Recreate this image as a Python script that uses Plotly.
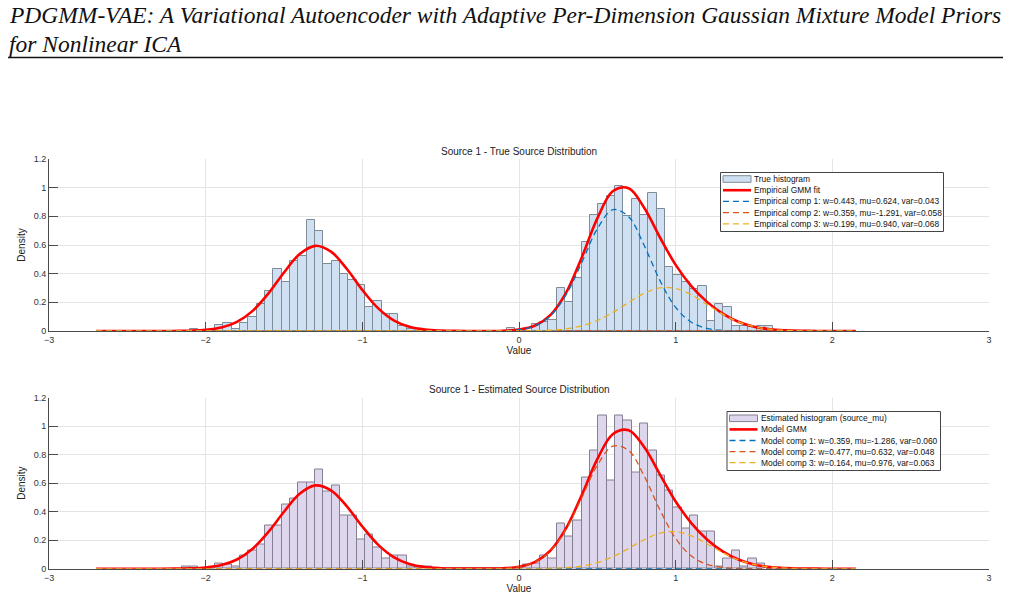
import numpy as np
import plotly.graph_objects as go

W, H = 1011, 602

# ---------------- data ----------------
BIN_WIDTH = 0.0532
TRUE_BIN_START = -2.1
EST_BIN_START = -2.1532

TRUE_HIST = [0.014, 0, 0, 0.04, 0.058, 0.016, 0.056, 0.095, 0.186, 0.28,
             0.43, 0.34, 0.49, 0.525, 0.772, 0.695, 0.47, 0.49, 0.395, 0.358,
             0.32, 0.17, 0.207, 0.116, 0.116, 0.035, 0.014, 0.014, 0.0,
             0, 0, 0, 0, 0, 0, 0, 0, 0,
             0.02, 0, 0,
             0.05, 0.065, 0.075, 0.298, 0.205, 0.372, 0.62, 0.81, 0.883, 0.944,
             1.014, 0.8, 0.92, 0.81, 0.96, 0.85, 0.449, 0.392, 0.34, 0.29,
             0.316, 0.072, 0.186, 0.168, 0.037, 0.032, 0.028, 0.037, 0.037]

EST_HIST = [0.016, 0.016, 0, 0, 0.035, 0.03, 0.016, 0.093, 0.13, 0.168,
            0.30, 0.30, 0.45, 0.49, 0.603, 0.603, 0.696, 0.544, 0.584, 0.376,
            0.376, 0.208, 0.243, 0.15, 0.072, 0.093, 0.093, 0.014, 0.014, 0.014,
            0, 0, 0, 0, 0, 0, 0, 0, 0,
            0, 0, 0.03, 0.037, 0.09, 0.072, 0.315, 0.225, 0.336, 0.638,
            0.828, 1.072, 0.62, 1.072, 1.036, 0.677, 1.017, 0.828, 0.656, 0.545,
            0.429, 0.283, 0.375, 0.262, 0.263, 0.014, 0.07, 0.129, 0.016, 0.071,
            0.036]

CURVE_X = [-2.7, -2.6, -2.5, -2.4, -2.3, -2.2, -2.1, -2.0, -1.9, -1.8,
           -1.7, -1.6, -1.5, -1.4, -1.3, -1.2, -1.1, -1.0, -0.9, -0.8,
           -0.7, -0.6, -0.5, -0.4, -0.3, -0.2, -0.1, 0.0, 0.1, 0.2,
           0.3, 0.4, 0.5, 0.6, 0.7, 0.8, 0.9, 1.0, 1.1, 1.2,
           1.3, 1.4, 1.5, 1.6, 1.7, 1.8, 1.9, 2.0, 2.1, 2.15]

TRUE_GMM = [0, 0, 0, 0, 0.0001, 0.0005, 0.0021, 0.0078, 0.0243, 0.0637,
            0.1406, 0.2610, 0.4080, 0.5368, 0.5942, 0.5536, 0.4341, 0.2866, 0.1592, 0.0744,
            0.0293, 0.0097, 0.0027, 0.0006, 0.0001, 0.0003, 0.0020, 0.0097, 0.0367, 0.1108,
            0.2664, 0.5113, 0.7861, 0.9767, 0.9962, 0.8581, 0.6523, 0.4612, 0.3133, 0.2032,
            0.1216, 0.0650, 0.0304, 0.0124, 0.0044, 0.0013, 0.0004, 0.0001, 0, 0]
TRUE_COMP1 = [0, 0, 0, 0, 0, 0, 0, 0, 0, 0,
              0, 0, 0, 0, 0, 0, 0, 0, 0, 0,
              0, 0, 0, 0, 0, 0.0003, 0.0019, 0.0092, 0.0350, 0.1054,
              0.2514, 0.4756, 0.7128, 0.8466, 0.7969, 0.5945, 0.3515, 0.1647, 0.0612, 0.0180,
              0.0042, 0.0008, 0.0001, 0, 0, 0, 0, 0, 0, 0]
TRUE_COMP2 = [0, 0]
TRUE_COMP2_X = [-2.7, 2.15]
TRUE_COMP3 = [0, 0, 0, 0, 0, 0, 0, 0, 0, 0,
              0, 0, 0, 0, 0, 0, 0, 0, 0, 0,
              0, 0, 0, 0, 0, 0, 0.0001, 0.0005, 0.0017, 0.0054,
              0.0150, 0.0357, 0.0733, 0.1301, 0.1993, 0.2636, 0.3008, 0.2965, 0.2522, 0.1852,
              0.1174, 0.0642, 0.0303, 0.0124, 0.0044, 0.0013, 0.0004, 0.0001, 0, 0]

MODEL_GMM = [0, 0, 0, 0, 0.0001, 0.0006, 0.0023, 0.0084, 0.0253, 0.0647,
             0.1402, 0.2571, 0.3992, 0.5247, 0.5838, 0.5497, 0.4383, 0.2957, 0.1689, 0.0817,
             0.0334, 0.0116, 0.0034, 0.0008, 0.0002, 0.0007, 0.0033, 0.0137, 0.0462, 0.1265,
             0.2824, 0.5145, 0.7676, 0.9443, 0.9702, 0.8513, 0.6600, 0.4714, 0.3194, 0.2052,
             0.1216, 0.0645, 0.0298, 0.0119, 0.0041, 0.0012, 0.0003, 0.0001, 0, 0]
MODEL_COMP1 = [0, 0]
MODEL_COMP1_X = [-2.7, 2.15]
MODEL_COMP2 = [0, 0, 0, 0, 0, 0, 0, 0, 0, 0,
               0, 0, 0, 0, 0, 0, 0, 0, 0, 0,
               0, 0, 0, 0, 0, 0.0006, 0.0033, 0.0136, 0.0456, 0.1243,
               0.2755, 0.4958, 0.7244, 0.8594, 0.8278, 0.6474, 0.4110, 0.2119, 0.0887, 0.0301,
               0.0083, 0.0019, 0.0003, 0, 0, 0, 0, 0, 0, 0]
MODEL_COMP3 = [0, 0, 0, 0, 0, 0, 0, 0, 0, 0,
               0, 0, 0, 0, 0, 0, 0, 0, 0, 0,
               0, 0, 0, 0, 0, 0, 0, 0.0001, 0.0006, 0.0022,
               0.0069, 0.0187, 0.0432, 0.0849, 0.1424, 0.2039, 0.2490, 0.2595, 0.2307, 0.1751,
               0.1133, 0.0626, 0.0295, 0.0119, 0.0041, 0.0012, 0.0003, 0.0001, 0, 0]

TRUE_LABELS = ["True histogram", "Empirical GMM fit",
               "Empirical comp 1: w=0.443, mu=0.624, var=0.043",
               "Empirical comp 2: w=0.359, mu=-1.291, var=0.058",
               "Empirical comp 3: w=0.199, mu=0.940, var=0.068"]
MODEL_LABELS = ["Estimated histogram (source_mu)", "Model GMM",
                "Model comp 1: w=0.359, mu=-1.286, var=0.060",
                "Model comp 2: w=0.477, mu=0.632, var=0.048",
                "Model comp 3: w=0.164, mu=0.976, var=0.063"]

TITLE_1 = "Source 1 - True Source Distribution"
TITLE_2 = "Source 1 - Estimated Source Distribution"
HEADER = ["PDGMM-VAE: A Variational Autoencoder with Adaptive Per-Dimension Gaussian Mixture Model Priors",
          "for Nonlinear ICA"]

# ---------------- styles ----------------
BLUE_FILL, BLUE_EDGE = "#cfe0f2", "#7f8b97"
PURP_FILL, PURP_EDGE = "#ddd6ec", "#857f92"
RED = "#ff0000"
C_BLUE, C_ORANGE, C_YELLOW = "#0072BD", "#D95319", "#EDB120"
DASH = "6px,4px"
FONT = "Liberation Sans, Arial, sans-serif"


def px(x):
    return x / W


def py(y):
    return 1 - y / H


fig = go.Figure()


def add_panel(row, hist, bin_start, fill, edge, curves, labels):
    xa = "x" if row == 1 else "x2"
    ya = "y" if row == 1 else "y2"
    centers = bin_start + BIN_WIDTH * (np.arange(len(hist)) + 0.5)
    fig.add_trace(go.Bar(x=centers, y=hist, width=BIN_WIDTH, name=labels[0],
                         marker=dict(color=fill, line=dict(color=edge, width=1)),
                         xaxis=xa, yaxis=ya, showlegend=False))
    for (cx, cy, color, dash, width), name in zip(curves, labels[1:]):
        fig.add_trace(go.Scatter(x=cx, y=cy, mode="lines", name=name,
                                 line=dict(color=color, width=width, dash=dash,
                                           shape="spline", smoothing=1.0),
                                 xaxis=xa, yaxis=ya, showlegend=False))


add_panel(1, TRUE_HIST, TRUE_BIN_START, BLUE_FILL, BLUE_EDGE,
          [(CURVE_X, TRUE_GMM, RED, "solid", 2.6),
           (CURVE_X, TRUE_COMP1, C_BLUE, DASH, 1.3),
           (TRUE_COMP2_X, TRUE_COMP2, C_ORANGE, DASH, 1.3),
           (CURVE_X, TRUE_COMP3, C_YELLOW, DASH, 1.3)], TRUE_LABELS)
add_panel(2, EST_HIST, EST_BIN_START, PURP_FILL, PURP_EDGE,
          [(CURVE_X, MODEL_GMM, RED, "solid", 2.6),
           (MODEL_COMP1_X, MODEL_COMP1, C_BLUE, DASH, 1.3),
           (CURVE_X, MODEL_COMP2, C_ORANGE, DASH, 1.3),
           (CURVE_X, MODEL_COMP3, C_YELLOW, DASH, 1.3)], MODEL_LABELS)

AX_COL = "#4a4a4a"
common_x = dict(range=[-3, 3], dtick=1, tick0=-3, showgrid=True, gridcolor="#e4e4e4",
                showline=True, linecolor=AX_COL, linewidth=1, ticks="inside",
                ticklen=9, tickcolor=AX_COL, zeroline=False, automargin=False,
                tickfont=dict(family=FONT, size=9, color="#333333"),
                title=dict(text="Value", font=dict(family=FONT, size=10, color="#222"), standoff=2))
common_y = dict(range=[0, 1.2], dtick=0.2, tick0=0, showgrid=True, gridcolor="#e4e4e4",
                showline=True, linecolor=AX_COL, linewidth=1, ticks="inside",
                ticklen=9, tickcolor=AX_COL, zeroline=False, automargin=False,
                tickfont=dict(family=FONT, size=9, color="#333333"),
                title=dict(text="Density", font=dict(family=FONT, size=10, color="#222"), standoff=6))

fig.update_layout(
    width=W, height=H, margin=dict(l=0, r=0, t=0, b=0),
    paper_bgcolor="white", plot_bgcolor="white", bargap=0, barmode="overlay",
    xaxis=dict(domain=[px(49), px(989)], anchor="y", **common_x),
    yaxis=dict(domain=[py(331), py(159)], anchor="x", **common_y),
    xaxis2=dict(domain=[px(49), px(989)], anchor="y2", **common_x),
    yaxis2=dict(domain=[py(568.7), py(397.5)], anchor="x2", **common_y),
)

shapes = []
annots = []

# header
HEADER_FONT = dict(family="Liberation Serif, serif", size=23.5, color="#111")
annots.append(dict(text="<i>" + HEADER[0] + "</i>", x=px(7), y=py(15), xref="paper", yref="paper",
                   xanchor="left", yanchor="middle", showarrow=False, font=HEADER_FONT))
annots.append(dict(text="<i>" + HEADER[1] + "</i>", x=px(7), y=py(44), xref="paper", yref="paper",
                   xanchor="left", yanchor="middle", showarrow=False, font=HEADER_FONT))
shapes.append(dict(type="line", xref="paper", yref="paper", x0=px(8), x1=px(1003),
                   y0=py(57.5), y1=py(57.5), line=dict(color="#111", width=1.3)))

# subplot titles
for t, yy in [(TITLE_1, 151), (TITLE_2, 389)]:
    annots.append(dict(text=t, x=px(519), y=py(yy), xref="paper", yref="paper",
                       xanchor="center", yanchor="middle", showarrow=False,
                       font=dict(family=FONT, size=10, color="#222")))


def legend(box, row0, step, sym_x0, sym_x1, text_x, labels, fill, edge, colors):
    l, t, r, b = box
    shapes.append(dict(type="rect", xref="paper", yref="paper", x0=px(l), x1=px(r),
                       y0=py(b), y1=py(t), fillcolor="white",
                       line=dict(color="#444", width=1), layer="above"))
    for i, lab in enumerate(labels):
        yc = row0 + i * step
        if i == 0:
            shapes.append(dict(type="rect", xref="paper", yref="paper", x0=px(sym_x0),
                               x1=px(sym_x1), y0=py(yc + 3.3), y1=py(yc - 3.3),
                               fillcolor=fill, line=dict(color=edge, width=1), layer="above"))
        else:
            c, d, wdt = colors[i - 1]
            shapes.append(dict(type="line", xref="paper", yref="paper", x0=px(sym_x0),
                               x1=px(sym_x1), y0=py(yc), y1=py(yc), layer="above",
                               line=dict(color=c, width=wdt, dash=d)))
        annots.append(dict(text=lab, x=px(text_x), y=py(yc), xref="paper", yref="paper",
                           xanchor="left", yanchor="middle", showarrow=False,
                           font=dict(family=FONT, size=8.4, color="#111")))


LEG_STYLES = [(RED, "solid", 2.6), (C_BLUE, DASH, 1.3), (C_ORANGE, DASH, 1.3), (C_YELLOW, DASH, 1.3)]
legend((720.5, 172.5, 943.5, 231.5), 179, 11.2, 723, 751, 751.5, TRUE_LABELS,
       BLUE_FILL, BLUE_EDGE, LEG_STYLES)
legend((727, 411.5, 940.5, 470.5), 418.3, 11.1, 729.5, 757.5, 758.5, MODEL_LABELS,
       PURP_FILL, PURP_EDGE, LEG_STYLES)

fig.update_layout(shapes=shapes, annotations=annots)
fig.write_html("out.html")
